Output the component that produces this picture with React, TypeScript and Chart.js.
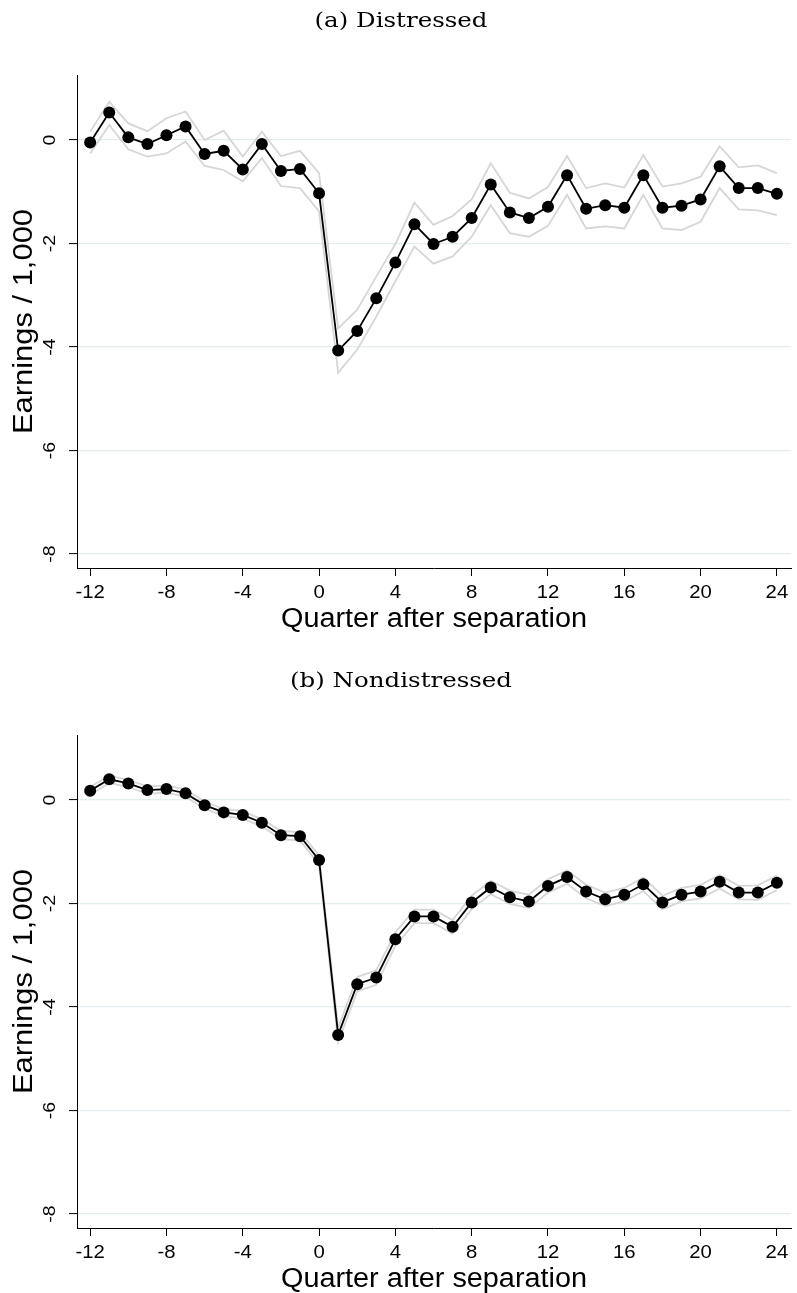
import React, { useEffect, useRef } from "react";
import { Chart, registerables } from "chart.js";

Chart.register(...registerables);

// ---------- data ----------
const quarters = [-12, -11, -10, -9, -8, -7, -6, -5, -4, -3, -2, -1, 0, 1, 2, 3, 4, 5, 6, 7, 8, 9, 10, 11, 12, 13, 14, 15, 16, 17, 18, 19, 20, 21, 22, 23, 24];

const distressedEst = [-0.05, 0.53, 0.05, -0.08, 0.09, 0.26, -0.27, -0.21, -0.57, -0.08, -0.6, -0.56, -1.03, -4.07, -3.69, -3.06, -2.37, -1.63, -2.01, -1.87, -1.51, -0.86, -1.4, -1.51, -1.29, -0.68, -1.33, -1.26, -1.31, -0.68, -1.31, -1.27, -1.15, -0.51, -0.93, -0.93, -1.04];
const distressedUpper = [0.16, 0.74, 0.32, 0.17, 0.42, 0.55, 0.0, 0.18, -0.32, 0.16, -0.31, -0.21, -0.64, -3.64, -3.28, -2.64, -2.01, -1.21, -1.64, -1.47, -1.15, -0.45, -1.02, -1.13, -0.91, -0.31, -0.93, -0.84, -0.92, -0.29, -0.9, -0.84, -0.71, -0.12, -0.53, -0.49, -0.64];
const distressedLower = [-0.26, 0.29, -0.18, -0.32, -0.26, -0.03, -0.5, -0.58, -0.8, -0.35, -0.89, -0.93, -1.38, -4.5, -4.05, -3.41, -2.73, -2.06, -2.39, -2.25, -1.87, -1.26, -1.8, -1.87, -1.66, -1.06, -1.71, -1.67, -1.71, -1.06, -1.71, -1.74, -1.58, -0.93, -1.34, -1.36, -1.45];

const nondistressedEst = [0.18, 0.4, 0.32, 0.19, 0.21, 0.13, -0.1, -0.24, -0.29, -0.44, -0.68, -0.7, -1.16, -4.54, -3.56, -3.43, -2.69, -2.25, -2.25, -2.45, -1.98, -1.69, -1.88, -1.96, -1.66, -1.49, -1.77, -1.92, -1.83, -1.63, -1.98, -1.83, -1.77, -1.58, -1.79, -1.79, -1.6];
const nondistressedUpper = [0.25, 0.47, 0.39, 0.26, 0.28, 0.2, -0.03, -0.17, -0.22, -0.37, -0.6, -0.62, -1.07, -4.4, -3.42, -3.29, -2.56, -2.12, -2.12, -2.32, -1.85, -1.56, -1.75, -1.83, -1.53, -1.36, -1.64, -1.79, -1.7, -1.5, -1.85, -1.7, -1.64, -1.45, -1.66, -1.65, -1.46];
const nondistressedLower = [0.1, 0.33, 0.25, 0.12, 0.14, 0.06, -0.17, -0.31, -0.36, -0.51, -0.76, -0.78, -1.25, -4.68, -3.7, -3.57, -2.82, -2.38, -2.38, -2.58, -2.11, -1.82, -2.01, -2.09, -1.79, -1.62, -1.9, -2.05, -1.96, -1.76, -2.11, -1.96, -1.9, -1.71, -1.92, -1.93, -1.74];

const xTickValues = [-12, -8, -4, 0, 4, 8, 12, 16, 20, 24];
const xTickLabels = ["-12", "-8", "-4", "0", "4", "8", "12", "16", "20", "24"];
const yTickValues = [0, -2, -4, -6, -8];
const yTickLabels = ["0", "-2", "-4", "-6", "-8"];

const panelTitles = ["(a) Distressed", "(b) Nondistressed"];
const xAxisTitle = "Quarter after separation";
const yAxisTitle = "Earnings / 1,000";

// ---------- layout constants ----------
const W = 797;
const PLOT_TOP = 75;
const PLOT_LEFT = 77;
const PLOT_BOTTOM = 568;
const X_MIN = -12.69;
const X_MAX = 24.74;
const Y_MIN = -8.27;
const Y_MAX = 1.255;

const SANS = "'Liberation Sans', Arial, Helvetica, sans-serif";
const SERIF = "'DejaVu Serif', serif";

function drawText(
  ctx: CanvasRenderingContext2D,
  text: string,
  x: number,
  y: number,
  font: string,
  opts: { rotate?: boolean; sx?: number; width?: number; align?: CanvasTextAlign }
) {
  ctx.save();
  ctx.font = font;
  let sx = opts.sx ?? 1;
  if (opts.width) sx = opts.width / ctx.measureText(text).width;
  ctx.translate(x, y);
  if (opts.rotate) ctx.rotate(-Math.PI / 2);
  ctx.scale(sx, 1);
  ctx.fillStyle = "#000";
  ctx.textAlign = opts.align ?? "center";
  ctx.textBaseline = "alphabetic";
  ctx.fillText(text, 0, 0);
  ctx.restore();
}

function makeTextPlugin(title: string) {
  return {
    id: "stataText",
    afterDraw(chart: any) {
      const ctx: CanvasRenderingContext2D = chart.ctx;
      const xs = chart.scales.x;
      const ys = chart.scales.y;
      const area = chart.chartArea;
      // panel title
      const titleFont = `21px ${SERIF}`;
      ctx.save();
      ctx.font = titleFont;
      const tsx = 173 / ctx.measureText(panelTitles[0]).width;
      ctx.restore();
      drawText(ctx, title, 401, 27, titleFont, { sx: tsx });
      // x tick labels
      xTickValues.forEach((v, i) => {
        drawText(ctx, xTickLabels[i], xs.getPixelForValue(v), area.bottom + 29.5, `19px ${SANS}`, { sx: 1.07 });
      });
      // y tick labels (rotated)
      yTickValues.forEach((v, i) => {
        drawText(ctx, yTickLabels[i], 55, ys.getPixelForValue(v), `17px ${SANS}`, { rotate: true, sx: 1.15 });
      });
      // axis titles
      const xc = (area.left + area.right) / 2;
      drawText(ctx, xAxisTitle, xc, area.bottom + 58.5, `27px ${SANS}`, { width: 306 });
      const yc = (area.top + area.bottom) / 2;
      drawText(ctx, yAxisTitle, 32, yc, `27px ${SANS}`, { rotate: true, width: 225 });
    },
  };
}

function Panel(props: { title: string; est: number[]; upper: number[]; lower: number[]; height: number }) {
  const ref = useRef<HTMLCanvasElement | null>(null);
  useEffect(() => {
    const canvas = ref.current;
    if (!canvas) return;
    const toPts = (arr: number[]) => quarters.map((q, i) => ({ x: q, y: arr[i] }));
    const xH = props.height - PLOT_BOTTOM;
    const chart = new Chart(canvas, {
      type: "line",
      data: {
        datasets: [
          {
            data: toPts(props.est),
            borderColor: "#000",
            backgroundColor: "#000",
            borderWidth: 1.8,
            pointRadius: 6,
            pointBackgroundColor: "#000",
            pointBorderWidth: 0,
            tension: 0,
          },
          {
            data: toPts(props.upper),
            borderColor: "#d6d6d6",
            borderWidth: 1.8,
            pointRadius: 0,
            tension: 0,
          },
          {
            data: toPts(props.lower),
            borderColor: "#d6d6d6",
            borderWidth: 1.8,
            pointRadius: 0,
            tension: 0,
          },
        ],
      },
      options: {
        responsive: false,
        animation: false,
        devicePixelRatio: 1,
        layout: { padding: { top: PLOT_TOP, right: 0, left: 0, bottom: 0 } },
        plugins: {
          legend: { display: false },
          tooltip: { enabled: false },
          title: { display: false },
        },
        scales: {
          x: {
            type: "linear",
            min: X_MIN,
            max: X_MAX,
            afterFit: (s: any) => {
              s.height = xH;
            },
            afterBuildTicks: (s: any) => {
              s.ticks = xTickValues.map((v) => ({ value: v }));
            },
            ticks: { display: false },
            grid: { drawOnChartArea: false, drawTicks: true, tickLength: 8, tickColor: "#000", tickWidth: 1 },
            border: { display: true, color: "#000", width: 1 },
          },
          y: {
            type: "linear",
            min: Y_MIN,
            max: Y_MAX,
            afterFit: (s: any) => {
              s.width = PLOT_LEFT;
            },
            afterBuildTicks: (s: any) => {
              s.ticks = yTickValues.map((v) => ({ value: v }));
            },
            ticks: { display: false },
            grid: { color: "#e3ecef", lineWidth: 1.2, drawTicks: true, tickLength: 8, tickColor: "#000", tickWidth: 1 },
            border: { display: true, color: "#000", width: 1 },
          },
        },
      },
      plugins: [makeTextPlugin(props.title)],
    } as any);
    return () => chart.destroy();
  }, []);
  return (
    <canvas
      ref={ref}
      width={W}
      height={props.height}
      style={{ display: "block", width: W + "px", height: props.height + "px" }}
    />
  );
}

export default function App() {
  return (
    <div style={{ position: "absolute", left: 0, top: 0, width: W + "px", background: "#fff" }}>
      <Panel title={panelTitles[0]} est={distressedEst} upper={distressedUpper} lower={distressedLower} height={660} />
      <Panel title={panelTitles[1]} est={nondistressedEst} upper={nondistressedUpper} lower={nondistressedLower} height={633} />
    </div>
  );
}
